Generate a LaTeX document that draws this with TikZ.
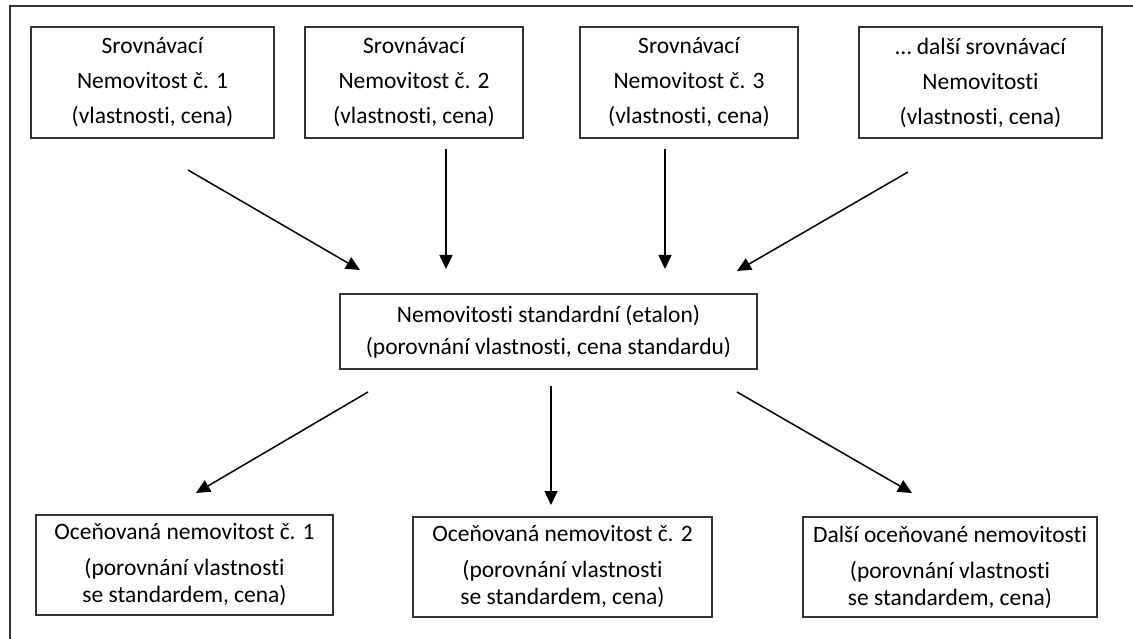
\documentclass[tikz,border=0pt]{standalone}
\usepackage{fontspec}
\setmainfont{Carlito}[Ligatures=NoCommon]
\usetikzlibrary{arrows.meta}
\tikzset{
  box/.style={draw=black!80, line width=1.5pt, inner sep=0pt, align=center, text=black},
  topbox/.style={box, minimum height=111pt, font={\fontsize{23.5}{35}\selectfont}},
  midbox/.style={box, minimum width=417pt, minimum height=75pt, font={\fontsize{23.5}{32}\selectfont}},
  botbox/.style={box, minimum height=100pt, font={\fontsize{23.5}{27}\selectfont}},
  arr/.style={line width=1.5pt, -{Triangle[length=14pt,width=13pt]}},
  frameline/.style={draw=black!80, line width=2pt}
}
\begin{document}
\begin{tikzpicture}[x=1pt,y=-1pt]
\useasboundingbox (0,0) rectangle (1133,639);
\coordinate (fa) at (10,639);
\coordinate (fb) at (10,6);
\coordinate (fc) at (1133,6);
\draw[frameline] (fa) -- (fb) -- (fc);

\node[topbox, minimum width=243pt] (t1) at (152.5,82.5) {Srovnávací\\Nemovitost č. 1\\(vlastnosti, cena)};
\node[topbox, minimum width=218pt] (t2) at (414,82.5) {Srovnávací\\Nemovitost č. 2\\(vlastnosti, cena)};
\node[topbox, minimum width=218pt] (t3) at (689,82.5) {Srovnávací\\Nemovitost č. 3\\(vlastnosti, cena)};
\node[topbox, minimum width=243pt] (t4) at (980.5,82.5) {… další srovnávací\\Nemovitosti\\(vlastnosti, cena)};

\node[midbox] (c) at (548.5,331.5) {Nemovitosti standardní (etalon)\\(porovnání vlastnosti, cena standardu)};

\node[botbox, minimum width=297pt] (b1) at (184.5,565) {Oceňovaná nemovitost č. 1\\[9pt](porovnání vlastnosti\\se standardem, cena)};
\node[botbox, minimum width=299pt] (b2) at (562.5,567) {Oceňovaná nemovitost č. 2\\[9pt](porovnání vlastnosti\\se standardem, cena)};
\node[botbox, minimum width=294pt] (b3) at (950,567) {Další oceňované nemovitosti\\[9pt](porovnání vlastnosti\\se standardem, cena)};

\coordinate (a1s) at (188,170);  \coordinate (a1e) at (360,270);
\coordinate (a2s) at (446,149);  \coordinate (a2e) at (446,269);
\coordinate (a3s) at (665,149);  \coordinate (a3e) at (665,269);
\coordinate (a4s) at (908,172);  \coordinate (a4e) at (737,271);
\coordinate (b1s) at (368,392);  \coordinate (b1e) at (196,493);
\coordinate (b2s) at (551,386);  \coordinate (b2e) at (551,505);
\coordinate (b3s) at (737,392);  \coordinate (b3e) at (912,493);

\draw[arr] (a1s) -- (a1e);
\draw[arr] (a2s) -- (a2e);
\draw[arr] (a3s) -- (a3e);
\draw[arr] (a4s) -- (a4e);
\draw[arr] (b1s) -- (b1e);
\draw[arr] (b2s) -- (b2e);
\draw[arr] (b3s) -- (b3e);
\end{tikzpicture}
\end{document}
